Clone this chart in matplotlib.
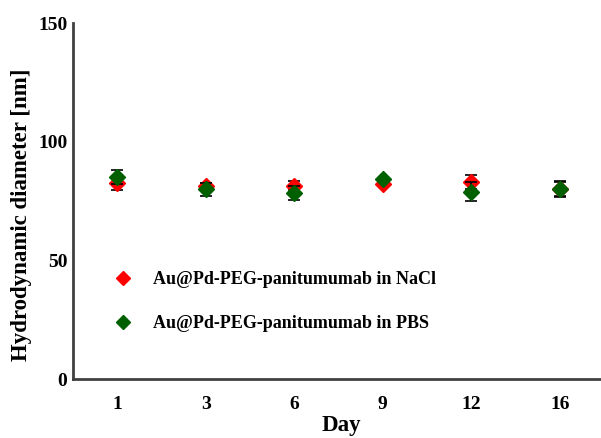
import numpy as np
import matplotlib as mpl
mpl.use('agg')
import matplotlib.pyplot as plt

days = ['1', '3', '6', '9', '12', '16']
nacl = [82.5, 81.5, 81.5, 82.2, 83.0, 80.0]
nacl_err = [3.0, 1.0, 2.0, 0.5, 3.0, 3.0]
pbs = [85.0, 80.0, 78.5, 84.3, 79.0, 80.0]
pbs_err = [3.0, 2.7, 3.0, 0.5, 4.2, 3.5]

plt.rcParams['font.family'] = ['Liberation Serif', 'DejaVu Serif']
plt.rcParams['font.weight'] = 'bold'

fig = plt.figure(figsize=(6.01, 4.38), dpi=100)
ax = fig.add_axes([73/601, 1 - 379/438, 1 - 73/601 + 0.02, (379 - 23)/438])

x = np.arange(len(days))
ax.errorbar(x, nacl, yerr=nacl_err, fmt='D', color='red', ecolor='black', elinewidth=1.2,
            capsize=4, capthick=1.2, markersize=8, label='Au@Pd-PEG-panitumumab in NaCl', zorder=3)
ax.errorbar(x, pbs, yerr=pbs_err, fmt='D', color='#006000', ecolor='black', elinewidth=1.2,
            capsize=4, capthick=1.2, markersize=8, label='Au@Pd-PEG-panitumumab in PBS', zorder=4)

ax.set_xlim(-0.5, 5.6)
ax.set_ylim(0, 150)
ax.set_xticks(x)
ax.set_xticklabels(days)
ax.set_yticks([0, 50, 100, 150])
ax.tick_params(axis='x', length=0, labelsize=14, pad=12)
ax.tick_params(axis='y', length=0, labelsize=14, pad=4)
for lab in ax.get_xticklabels() + ax.get_yticklabels():
    lab.set_fontweight('bold')

for s in ['top', 'right']:
    ax.spines[s].set_visible(False)
for s in ['left', 'bottom']:
    ax.spines[s].set_color('#404040')
    ax.spines[s].set_linewidth(2)

# axis titles placed like the original (ylabel sits a bit low)
fig.text(341/601, 1 - 426/438, 'Day', fontsize=16.5, fontweight='bold', ha='center', va='center')
fig.text(22/601, 1 - 215/438, 'Hydrodynamic diameter [nm]', fontsize=16.5, fontweight='bold',
         ha='center', va='center', rotation=90)

handles, labels = ax.get_legend_handles_labels()
handles = [h[0] for h in handles]
ax.legend(handles, labels, loc='lower left', bbox_to_anchor=(0.038, 0.085), frameon=False,
          handletextpad=0.9, labelspacing=1.5, markerscale=0.9, handlelength=1.5,
          prop={'weight': 'bold', 'size': 13})

fig.savefig('out.png', dpi=100)
